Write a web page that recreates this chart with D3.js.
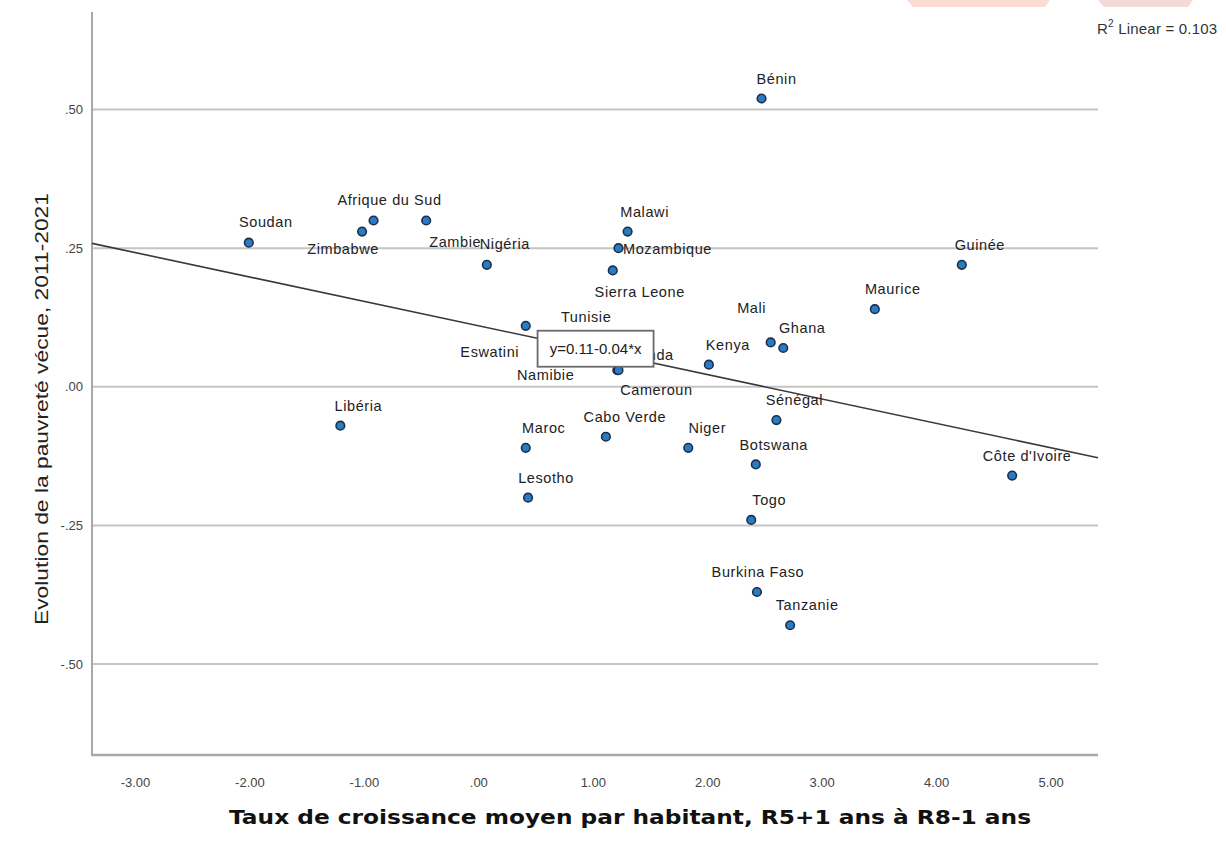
<!DOCTYPE html>
<html>
<head>
<meta charset="utf-8">
<script src="https://cdn.jsdelivr.net/npm/d3@7"></script>
<style>
  body { margin: 0; background: #fff; }
  svg { display: block; }
</style>
</head>
<body>
<div id="chart"></div>
<script>
// country values
const countries = ['Bénin', 'Soudan', 'Afrique du Sud', 'Zimbabwe', 'Zambie', 'Nigéria', 'Malawi',
  'Mozambique', 'Sierra Leone', 'Guinée', 'Maurice', 'Mali', 'Ghana', 'Kenya', 'Tunisie', 'Eswatini',
  'Namibie', 'Rwanda', 'Cameroun', 'Libéria', 'Maroc', 'Lesotho', 'Cabo Verde', 'Niger', 'Sénégal',
  'Botswana', "Côte d'Ivoire", 'Togo', 'Burkina Faso', 'Tanzanie'];
const growth = [2.47, -2.01, -0.92, -1.02, -0.46, 0.07, 1.30,
  1.22, 1.17, 4.22, 3.46, 2.55, 2.66, 2.01, 0.78, 0.41,
  0.75, 1.21, 1.22, -1.21, 0.41, 0.43, 1.11, 1.83, 2.60,
  2.42, 4.66, 2.38, 2.43, 2.72];
const poverty = [0.52, 0.26, 0.30, 0.28, 0.30, 0.22, 0.28,
  0.25, 0.21, 0.22, 0.14, 0.08, 0.07, 0.04, 0.086, 0.11,
  0.052, 0.03, 0.03, -0.07, -0.11, -0.20, -0.09, -0.11, -0.06,
  -0.14, -0.16, -0.24, -0.37, -0.43];

const xTicks = [-3, -2, -1, 0, 1, 2, 3, 4, 5];
const yTicks = [-0.5, -0.25, 0, 0.25, 0.5];
const fitIntercept = 0.11;
const fitSlope = -0.044;
const rSquared = 0.103;

// label placement around each point (dx, dy of label centre)
const labelOffset = {
  'Bénin': [15, -20], 'Soudan': [17, -21], 'Afrique du Sud': [16, -21], 'Zimbabwe': [-19, 17],
  'Zambie': [29, 21], 'Nigéria': [18, -21], 'Malawi': [17, -20], 'Mozambique': [49, 1],
  'Sierra Leone': [27, 22], 'Guinée': [18, -20], 'Maurice': [18, -20], 'Mali': [-19, -35],
  'Ghana': [19, -20], 'Kenya': [19, -20], 'Tunisie': [18, -22], 'Eswatini': [-36, 26],
  'Namibie': [-19, 17], 'Rwanda': [28, -15], 'Cameroun': [38, 20], 'Libéria': [18, -20],
  'Maroc': [18, -20], 'Lesotho': [18, -20], 'Cabo Verde': [19, -20], 'Niger': [19, -20],
  'Sénégal': [18, -20], 'Botswana': [18, -20], "Côte d'Ivoire": [15, -20], 'Togo': [18, -20],
  'Burkina Faso': [1, -20], 'Tanzanie': [17, -20]
};

const W = 1226, H = 844;
const svg = d3.select('#chart').append('svg').attr('width', W).attr('height', H);

const x = d3.scaleLinear().domain([-3.38, 5.41]).range([92, 1098]);
const y = d3.scaleLinear().domain([-0.664, 0.676]).range([755, 12]);

// SPSS style numbers: ".50", "-.25", "-3.00"
const spss = v => {
  const s = Math.abs(v).toFixed(2).replace(/^0\./, '.');
  return (v < 0 ? '-' : '') + s;
};

// faint banner shapes at the very top
svg.append('path').attr('d', 'M907,0 L1050,0 L1045,7 L913,7 Z').attr('fill', '#fbdcd3');
svg.append('path').attr('d', 'M1098,0 L1193,0 L1188,7 L1104,7 Z').attr('fill', '#f4d9d9');

// grid lines
svg.append('g').selectAll('line').data(yTicks).join('line')
  .attr('x1', x.range()[0]).attr('x2', x.range()[1])
  .attr('y1', d => y(d)).attr('y2', d => y(d))
  .attr('stroke', '#c4c4c4').attr('stroke-width', 2);

// axes lines
svg.append('line').attr('x1', 92).attr('x2', 92).attr('y1', y.range()[1]).attr('y2', y.range()[0])
  .attr('stroke', '#a8a8a8').attr('stroke-width', 2);
svg.append('line').attr('x1', 91).attr('x2', x.range()[1]).attr('y1', y.range()[0]).attr('y2', y.range()[0])
  .attr('stroke', '#a8a8a8').attr('stroke-width', 2.5);

// tick labels
svg.append('g').selectAll('text').data(yTicks).join('text')
  .attr('x', 83).attr('y', d => y(d)).attr('dy', '0.35em')
  .attr('text-anchor', 'end')
  .style('font', '13px "Liberation Sans", Arial, sans-serif').attr('fill', '#444')
  .text(spss);
svg.append('g').selectAll('text').data(xTicks).join('text')
  .attr('x', d => x(d)).attr('y', 782).attr('dy', '0.35em')
  .attr('text-anchor', 'middle')
  .style('font', '13px "Liberation Sans", Arial, sans-serif').attr('fill', '#444')
  .text(spss);

// regression line
const xd = x.domain();
svg.append('line')
  .attr('x1', x(xd[0])).attr('y1', y(fitIntercept + fitSlope * xd[0]))
  .attr('x2', x(xd[1])).attr('y2', y(fitIntercept + fitSlope * xd[1]))
  .attr('stroke', '#3a3a3a').attr('stroke-width', 1.6);

const pts = countries.map((c, i) => ({ name: c, gx: growth[i], pv: poverty[i] }));

// points
svg.append('g').selectAll('circle').data(pts).join('circle')
  .attr('cx', d => x(d.gx)).attr('cy', d => y(d.pv)).attr('r', 4.3)
  .attr('fill', '#2a7cc0').attr('stroke', '#1b2f4f').attr('stroke-width', 1.6);

// labels
svg.append('g').selectAll('text').data(pts).join('text')
  .attr('x', d => x(d.gx) + labelOffset[d.name][0])
  .attr('y', d => y(d.pv) + labelOffset[d.name][1])
  .attr('dy', '0.35em').attr('text-anchor', 'middle')
  .style('font', '14.5px "Liberation Sans", Arial, sans-serif')
  .style('letter-spacing', '0.6px')
  .attr('fill', '#222')
  .text(d => d.name);

// equation box on the fit line
const bx = 1.02, bw = 116, bh = 36;
const bcx = x(bx), bcy = y(fitIntercept + fitSlope * bx) - 2;
svg.append('rect').attr('x', bcx - bw / 2).attr('y', bcy - bh / 2).attr('width', bw).attr('height', bh)
  .attr('fill', '#fff').attr('stroke', '#6a6a6a').attr('stroke-width', 1.8);
svg.append('text').attr('x', bcx).attr('y', bcy).attr('dy', '0.35em').attr('text-anchor', 'middle')
  .style('font', '15px "Liberation Sans", Arial, sans-serif').attr('fill', '#222')
  .text('y=' + fitIntercept.toFixed(2) + '-' + Math.abs(Math.round(fitSlope * 100) / 100).toFixed(2) + '*x');

// R squared note
const rt = svg.append('text').attr('x', 1097).attr('y', 34)
  .style('font', '15px "Liberation Sans", Arial, sans-serif').style('letter-spacing', '0.2px')
  .attr('fill', '#333');
rt.append('tspan').text('R');
rt.append('tspan').attr('dy', -7).style('font-size', '10px').text('2');
rt.append('tspan').attr('dy', 7).text(' Linear = ' + rSquared.toFixed(3));

// axis titles
svg.append('text')
  .attr('transform', 'translate(48,409) rotate(-90)')
  .attr('text-anchor', 'middle')
  .attr('textLength', 432).attr('lengthAdjust', 'spacingAndGlyphs')
  .style('font', '19px "Liberation Sans", Arial, sans-serif').attr('fill', '#222')
  .text('Evolution de la pauvreté vécue, 2011-2021');

svg.append('text')
  .attr('x', 630).attr('y', 824)
  .attr('text-anchor', 'middle')
  .attr('textLength', 802).attr('lengthAdjust', 'spacingAndGlyphs')
  .style('font', 'bold 20px "DejaVu Sans", sans-serif').attr('fill', '#111')
  .text('Taux de croissance moyen par habitant, R5+1 ans à R8-1 ans');
</script>
</body>
</html>
